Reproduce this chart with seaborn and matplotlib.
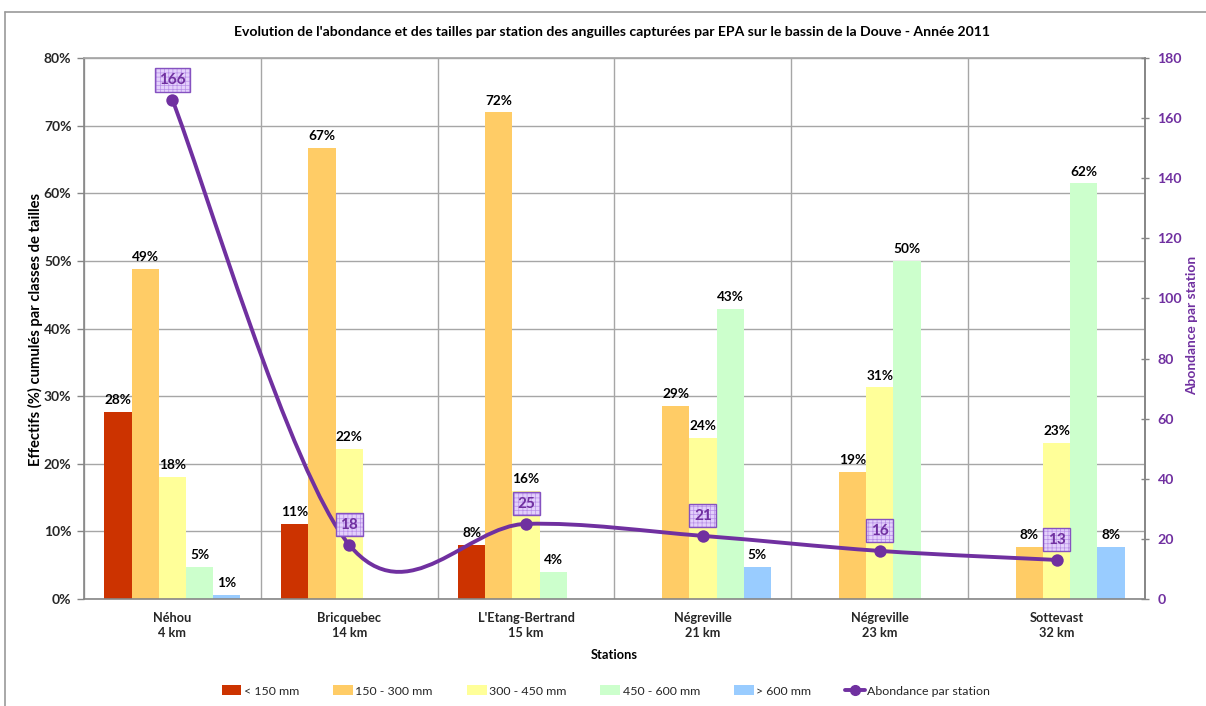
import numpy as np
import pandas as pd
import matplotlib
matplotlib.use("Agg")
import matplotlib.pyplot as plt
import seaborn as sns
from matplotlib.path import Path
from matplotlib.patches import PathPatch, Patch
from matplotlib.lines import Line2D
from matplotlib.ticker import MultipleLocator, FuncFormatter

# ---- data -------------------------------------------------------------
stations = ["Néhou\n4 km", "Bricquebec\n14 km", "L'Etang-Bertrand\n15 km",
            "Négreville\n21 km", "Négreville\n23 km", "Sottevast\n32 km"]
classes = ["< 150 mm", "150 - 300 mm", "300 - 450 mm", "450 - 600 mm", "> 600 mm"]

pct_lt150 = [27.7, 11.1, 8.0, 0.0, 0.0, 0.0]
pct_150_300 = [48.8, 66.7, 72.0, 28.6, 18.8, 7.7]
pct_300_450 = [18.1, 22.2, 16.0, 23.8, 31.3, 23.1]
pct_450_600 = [4.8, 0.0, 4.0, 42.9, 50.0, 61.5]
pct_gt600 = [0.6, 0.0, 0.0, 4.8, 0.0, 7.7]

abondance = [166, 18, 25, 21, 16, 13]

title = ("Evolution de l'abondance et des tailles par station des anguilles "
         "capturées par EPA sur le bassin de la Douve - Année 2011")

# ---- style ------------------------------------------------------------
class_colors = ["#CC3300", "#FFCC66", "#FFFF99", "#CCFFCC", "#99CCFF"]
purple = "#7030A0"
grid_col = "#A6A6A6"
axis_col = "#868686"

sns.set_theme(style="white")
plt.rcParams["font.family"] = ["Lato", "DejaVu Sans"]
plt.rcParams["hatch.linewidth"] = 0.5

W, H = 1206, 706
fig = plt.figure(figsize=(W / 100, H / 100), dpi=100)
fig.patch.set_facecolor("white")

x0, x1, y0, y1 = 84, 1145, 58, 599
ax = fig.add_axes([x0 / W, 1 - y1 / H, (x1 - x0) / W, (y1 - y0) / H])

# chart-area frame
fig.add_artist(Line2D([5 / W, 1], [1 - 12 / H] * 2, color="#9A9A9A", lw=1.2))
fig.add_artist(Line2D([5 / W] * 2, [1 - 12 / H, 0], color="#9A9A9A", lw=1.2))

# ---- bars -------------------------------------------------------------
series = [pct_lt150, pct_150_300, pct_300_450, pct_450_600, pct_gt600]
df = pd.DataFrame({
    "station": stations * len(classes),
    "classe": np.repeat(classes, len(stations)),
    "pct": np.concatenate(series),
})

sns.barplot(data=df, x="station", y="pct", hue="classe", order=stations,
            hue_order=classes, palette=class_colors, saturation=1,
            width=0.77, linewidth=0, errorbar=None, legend=False, ax=ax,
            zorder=2)

for cont in ax.containers:
    labels = [f"{v:.0f}%" if v > 0 else "" for v in cont.datavalues]
    ax.bar_label(cont, labels=labels, padding=4, fontsize=9.8,
                 fontweight="bold", color="black")

ax.set_ylim(0, 80)
ax.set_xlim(-0.5, len(stations) - 0.5)
ax.yaxis.set_major_locator(MultipleLocator(10))
ax.yaxis.set_major_formatter(FuncFormatter(lambda v, p: f"{v:.0f}%"))
ax.set_xticks(np.arange(len(stations)))
ax.set_xticklabels(stations, fontsize=9.2, fontweight="bold", linespacing=1.35)
ax.set_xticks(np.arange(-0.5, len(stations)), minor=True)
ax.tick_params(axis="x", which="major", length=0, pad=9)
ax.tick_params(axis="x", which="minor", length=5, width=1, color=axis_col,
               direction="out")
ax.tick_params(axis="y", length=5, width=1, color=axis_col, direction="out",
               labelsize=10, pad=4)
for lab in ax.get_yticklabels():
    lab.set_fontweight("bold")
ax.grid(axis="y", which="major", color=grid_col, lw=1)
ax.grid(axis="x", which="minor", color=grid_col, lw=1)
ax.set_axisbelow(True)
ax.set_xlabel("")
ax.set_ylabel("")
for side in ["left", "bottom", "right"]:
    ax.spines[side].set_color(axis_col)
    ax.spines[side].set_linewidth(1.2)
ax.spines["top"].set_color(grid_col)

# ---- abundance line (smoothed Bezier through the station values) -----
ax2 = ax.twinx()
ax2.set_ylim(0, 180)
ax2.yaxis.set_major_locator(MultipleLocator(20))
ax2.tick_params(axis="y", length=6, width=1, color=axis_col,
                direction="inout", labelsize=10.2, labelcolor=purple, pad=6)
for lab in ax2.get_yticklabels():
    lab.set_fontweight("bold")
for side in ["left", "bottom", "top"]:
    ax2.spines[side].set_visible(False)
ax2.spines["right"].set_color(axis_col)
ax2.spines["right"].set_linewidth(1.2)
ax2.grid(False)

xs = np.arange(len(abondance), dtype=float)
pts = np.column_stack([xs, np.asarray(abondance, dtype=float)])
n = len(pts)
verts, codes = [pts[0]], [Path.MOVETO]
for i in range(n - 1):
    p_prev = pts[i - 1] if i > 0 else pts[i]
    p_next = pts[i + 2] if i + 2 < n else pts[i + 1]
    c1 = pts[i] + (pts[i + 1] - p_prev) / 6.0
    c2 = pts[i + 1] - (p_next - pts[i]) / 6.0
    verts += [c1, c2, pts[i + 1]]
    codes += [Path.CURVE4] * 3
ax2.add_patch(PathPatch(Path(verts, codes), fill=False, edgecolor=purple,
                        lw=2.8, zorder=3, capstyle="round"))
sns.scatterplot(x=xs, y=abondance, ax=ax2, color=purple, s=80,
                linewidth=0, zorder=4, legend=False)
ax2.set_xlim(-0.5, len(stations) - 0.5)

for xv, yv in zip(xs, abondance):
    # hatched lavender box, then its border and the value on top
    ax2.annotate(str(yv), (xv, yv), xytext=(0, 14.5), textcoords="offset points",
                 ha="center", va="center", fontsize=11, fontweight="bold",
                 color="none", zorder=5,
                 bbox=dict(boxstyle="square,pad=0.3", fc="#E3D0FB",
                           ec="#B990E8", hatch="++++", lw=0))
    ax2.annotate(str(yv), (xv, yv), xytext=(0, 14.5), textcoords="offset points",
                 ha="center", va="center", fontsize=11, fontweight="bold",
                 color=purple, zorder=6,
                 bbox=dict(boxstyle="square,pad=0.3", fc="none",
                           ec="#8552C0", lw=1))

# ---- texts ------------------------------------------------------------
fig.text(612 / W, 1 - 32 / H, title, ha="center", va="center",
         fontsize=10.1, fontweight="bold", color="black")
fig.text(35 / W, 1 - 330 / H, "Effectifs (%) cumulés par classes de tailles",
         rotation=90, ha="center", va="center", fontsize=10.6,
         fontweight="bold", color="black")
fig.text(1192 / W, 1 - 325 / H, "Abondance par station", rotation=90,
         ha="center", va="center", fontsize=9.9, fontweight="bold",
         color=purple)
fig.text(614 / W, 1 - 655 / H, "Stations", ha="center", va="center",
         fontsize=9.3, fontweight="bold", color="black")

# ---- legend -----------------------------------------------------------
handles = [Patch(facecolor=c, edgecolor="none") for c in class_colors]
handles.append(Line2D([], [], color=purple, lw=2.8, marker="o", ms=7))
fig.legend(handles, classes + ["Abondance par station"], loc="center",
           bbox_to_anchor=(606 / W, 1 - 691 / H), ncol=6, frameon=False,
           fontsize=8.9, handlelength=1.6, handleheight=0.8,
           handletextpad=0.2, columnspacing=2.75)

fig.savefig("out.png", dpi=100)
